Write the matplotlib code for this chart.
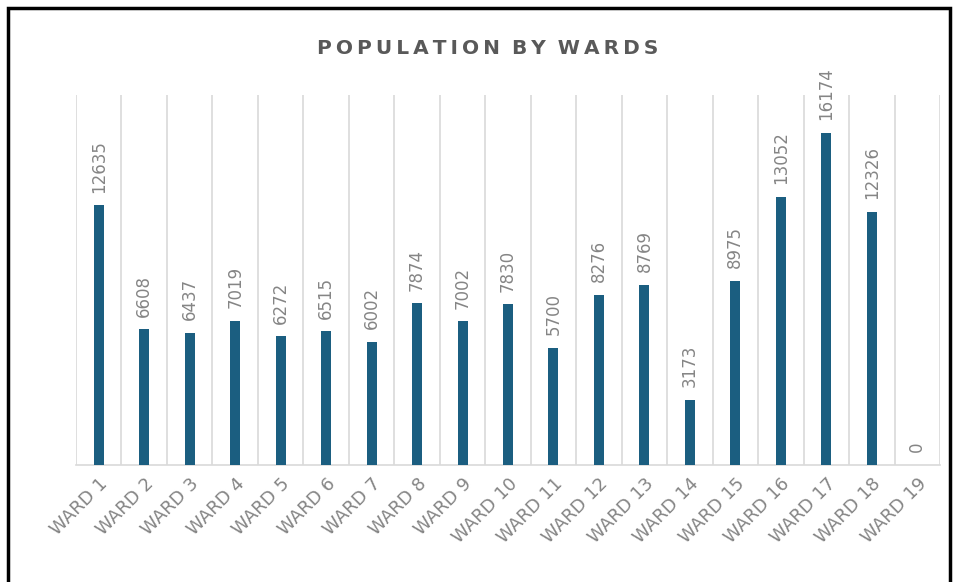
import matplotlib
matplotlib.use("Agg")
import matplotlib.pyplot as plt
from matplotlib.patches import Rectangle
import numpy as np

categories = [f"WARD {i}" for i in range(1, 20)]
population = [12635, 6608, 6437, 7019, 6272, 6515, 6002, 7874, 7002, 7830,
              5700, 8276, 8769, 3173, 8975, 13052, 16174, 12326, 0]
title = "POPULATION BY WARDS"

bar_color = "#1b5e80"
text_gray = "#858585"
grid_gray = "#d9d9d9"

fig = plt.figure(figsize=(9.6, 5.82), dpi=100)
ax = fig.add_axes([76/960, 1-465/582, (940-76)/960, (465-95)/582])

x = np.arange(len(categories))
ax.bar(x, population, width=0.22, color=bar_color, zorder=3)

for xi, v in zip(x, population):
    ax.annotate(str(v), (xi, v), xytext=(0, 9), textcoords="offset points",
                rotation=90, ha="center", va="bottom", color=text_gray,
                fontsize=12, family="DejaVu Sans")

ax.set_xlim(-0.5, len(categories) - 0.5)
ax.set_ylim(0, 18000)
ax.set_yticks([])
ax.set_xticks(x)
ax.set_xticklabels(categories, rotation=45, ha="right", rotation_mode="anchor",
                   color=text_gray, fontsize=13, family="DejaVu Sans")
ax.tick_params(axis="x", length=0, pad=7)
ax.set_xticks(np.arange(-0.5, len(categories)), minor=True)
ax.tick_params(axis="x", which="minor", length=0)
ax.grid(axis="x", which="minor", color=grid_gray, linewidth=1.2, zorder=0)
ax.grid(axis="x", which="major", visible=False)
for s in ["top", "left", "right"]:
    ax.spines[s].set_visible(False)
ax.spines["bottom"].set_color(grid_gray)
ax.spines["bottom"].set_linewidth(1.2)

fig.text(488/960, 1-48/582, "\u2009".join(title).replace("\u2009 \u2009", "\u2009\u2009\u2009"),
         ha="center", va="center", fontsize=14.5, fontweight="bold",
         color="#595959", family="DejaVu Sans")

fig.patches.append(Rectangle((8/960, -0.01), (950-8)/960, 1-8/582+0.01,
                             transform=fig.transFigure, fill=False,
                             edgecolor="black", linewidth=2.5))

fig.savefig("out.png", dpi=100, facecolor="white")
